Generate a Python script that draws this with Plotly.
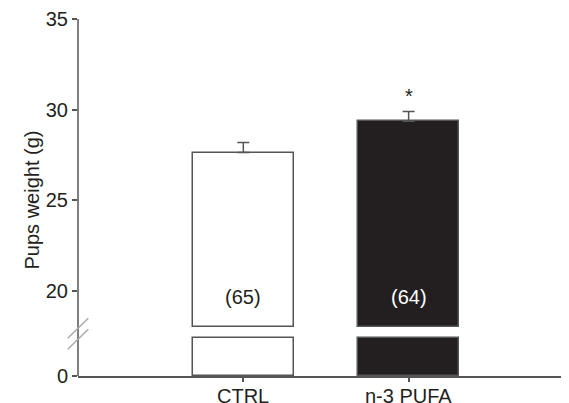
import plotly.graph_objects as go

# ---- data ----
categories = ["CTRL", "n-3 PUFA"]
means = [27.62, 29.35]
sem = [0.56, 0.54]
n_labels = ["(65)", "(64)"]
bar_colors = ["#ffffff", "#231f20"]
label_colors = ["#231f20", "#ffffff"]
upper_ticks = [20, 25, 30, 35]
lower_ticks = [0]

# ---- layout constants ----
OFF = 8                      # default page body margin
W, H = 569 - OFF, 403 - OFF
ML, MR, MT, MB = 78 - OFF, 0, 19 - OFF, 27
UP_BASE = 18.0               # value where upper segment of bars starts
UP_RANGE = [17.8, 35]
LOW_CAP = 2.0                # drawn height of lower stub
LOW_RANGE = [0, 2.1]
plot_h = H - MT - MB
plot_w = W - ML - MR
px_per_unit = 18.1
up_bottom_px = (35 - UP_RANGE[0]) * px_per_unit
up_dom_bottom = 1 - up_bottom_px / plot_h
low_dom_top = 40 / plot_h

EDGE = "#555555"
TXT = "#231f20"
FONT = "Liberation Sans, Arial, Helvetica, sans-serif"
FS = 20


def px2paper(xp, yp):
    """window pixel -> paper coords"""
    return (xp - OFF - ML) / plot_w, (H - MB - (yp - OFF)) / plot_h


fig = go.Figure()

# lower stub of bars
fig.add_trace(go.Bar(
    x=categories, y=[min(v, LOW_CAP) for v in means],
    marker=dict(color=bar_colors, line=dict(color=EDGE, width=1.5)),
    width=0.61, xaxis="x", yaxis="y", showlegend=False, hoverinfo="skip",
))
# upper segment of bars
fig.add_trace(go.Bar(
    x=categories, y=[v - UP_BASE for v in means], base=UP_BASE,
    marker=dict(color=bar_colors, line=dict(color=EDGE, width=1.5)),
    width=0.61, xaxis="x", yaxis="y2", showlegend=False,
    error_y=dict(type="data", array=sem, arrayminus=[0] * len(sem),
                 symmetric=False, color=EDGE, thickness=1.5, width=6),
))

annotations = []
for c, t, col in zip(categories, n_labels, label_colors):
    annotations.append(dict(x=c, y=19.65, xref="x", yref="y2", text=t,
                            showarrow=False, font=dict(size=FS, color=col, family=FONT)))
annotations.append(dict(x=categories[1], y=means[1] + sem[1] + 0.85, xref="x", yref="y2",
                        text="*", showarrow=False,
                        font=dict(size=FS, color=TXT, family=FONT)))
# category labels (placed explicitly so they sit close under the axis)
_, cy = px2paper(0, 395.5)
for c in categories:
    annotations.append(dict(x=c, y=cy, xref="x", yref="paper", yanchor="middle",
                            text=c, showarrow=False,
                            font=dict(size=FS, color=TXT, family=FONT)))
tx, ty = px2paper(18.5, 200)
annotations.append(dict(x=tx, y=ty, xref="paper", yref="paper",
                        text="Pups weight (g)", textangle=-90, showarrow=False,
                        font=dict(size=FS, color=TXT, family=FONT)))

shapes = [
    dict(type="line", xref="paper", yref="paper", x0=0, x1=0, y0=0, y1=1,
         line=dict(color=EDGE, width=1.5)),
]
for (a, b) in [((67.7, 338.3), (88.3, 318.3)), ((67.7, 349.3), (88.3, 329.3))]:
    x0, y0 = px2paper(*a)
    x1, y1 = px2paper(*b)
    shapes.append(dict(type="line", xref="paper", yref="paper", x0=x0, y0=y0, x1=x1, y1=y1,
                       line=dict(color="#aaaaaa", width=1.5)))

fig.update_layout(
    width=W, height=H,
    margin=dict(l=ML, r=MR, t=MT, b=MB, pad=0, autoexpand=False),
    paper_bgcolor="white", plot_bgcolor="white",
    font=dict(family=FONT, size=FS, color=TXT),
    bargap=0,
    xaxis=dict(range=[-1.0, 1.97], showline=True, linecolor=EDGE, linewidth=1.5,
               ticks="outside", ticklen=4, tickwidth=1.5, tickcolor=EDGE,
               showgrid=False, zeroline=False, anchor="y", automargin=False,
               showticklabels=False),
    yaxis=dict(domain=[0, low_dom_top], range=LOW_RANGE, tickvals=lower_ticks,
               showline=False, ticks="outside", ticklen=5, tickwidth=1.5, tickcolor=EDGE,
               showgrid=False, zeroline=False, anchor="x", automargin=False,
               tickfont=dict(size=FS, color=TXT)),
    yaxis2=dict(domain=[up_dom_bottom, 1], range=UP_RANGE, tickvals=upper_ticks,
                showline=False, ticks="outside", ticklen=5, tickwidth=1.5, tickcolor=EDGE,
                showgrid=False, zeroline=False, anchor="x", automargin=False,
                tickfont=dict(size=FS, color=TXT)),
    annotations=annotations,
    shapes=shapes,
)

fig.write_html("out.html")
